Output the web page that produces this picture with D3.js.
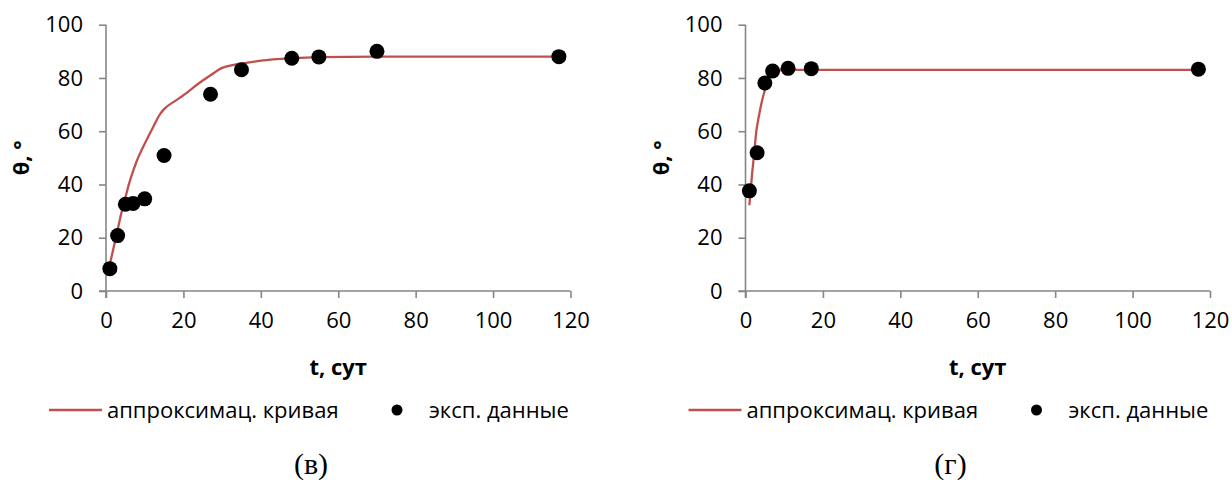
<!DOCTYPE html>
<html>
<head>
<meta charset="utf-8">
<script src="https://cdn.jsdelivr.net/npm/d3@7"></script>
<style>
  html, body { margin: 0; padding: 0; background: #fff; }
  svg { display: block; }
  text { font-family: "Open Sans", "Noto Sans", sans-serif; fill: #000; }
</style>
</head>
<body>
<svg id="chart" width="1232" height="488"></svg>
<script>
// Axis ticks shared by both panels
const tTicks = [0, 20, 40, 60, 80, 100, 120];
const thetaTicks = [0, 20, 40, 60, 80, 100];

// Panel (в): experimental points
const expT_v = [1, 3, 5, 7, 10, 15, 27, 35, 48, 55, 70, 117];
const expTheta_v = [8.4, 20.8, 32.6, 32.9, 34.6, 50.9, 73.9, 83.1, 87.4, 87.9, 90, 88];
// Panel (в): approximating curve
const fitT_v = [1, 2, 3, 4, 5, 6, 7, 8, 9, 10, 12, 14, 15, 18, 20, 24, 27, 30, 33, 35, 40, 48, 55, 70, 117];
const fitTheta_v = [10, 16.5, 23, 29.5, 35, 40.5, 45, 49, 52.3, 55.3, 61, 66.5, 68.3, 71.5, 73.5, 78, 81, 83.8, 84.9, 85.4, 86.5, 87.4, 87.8, 88, 88];

// Panel (г): experimental points
const expT_g = [1, 3, 5, 7, 11, 17, 117];
const expTheta_g = [37.6, 51.9, 78.1, 82.6, 83.6, 83.5, 83.3];
// Panel (г): approximating curve
const fitT_g = [1, 1.7, 2.2, 2.8, 3.5, 4.3, 5, 5.8, 7, 8.3, 10, 15, 117];
const fitTheta_g = [32.2, 44, 51, 60, 66, 71.6, 75.4, 79, 82.2, 82.9, 83, 83, 83];

// Text
const xTitle = "t, сут";
const yTitle = "θ, °";
const legendLine = "аппроксимац. кривая";
const legendDots = "эксп. данные";
const captions = ["(в)", "(г)"];

const svg = d3.select("#chart");
const curveColor = "#C0504D";
const axisColor = "#868686";

function drawPanel(ox, eT, eV, fT, fV, caption) {
  const g = svg.append("g").attr("transform", `translate(${ox},0)`);
  const x = d3.scaleLinear().domain([0, 120]).range([106, 570.5]);
  const y = d3.scaleLinear().domain([0, 100]).range([291, 24.7]);

  // Y axis
  const ya = g.append("g").attr("transform", `translate(${x(0)},0)`)
    .call(d3.axisLeft(y).tickValues(thetaTicks).tickSize(7).tickPadding(16));
  // X axis
  const xa = g.append("g").attr("transform", `translate(0,${y(0)})`)
    .call(d3.axisBottom(x).tickValues(tTicks).tickSize(7).tickPadding(14));
  [ya, xa].forEach(a => {
    a.selectAll("path, line").attr("stroke", axisColor).attr("stroke-width", 1.6);
    a.select(".domain").attr("d", null);
    a.selectAll("text").style("font-size", "22px").attr("fill", "#000")
      .style("font-family", '"Open Sans", sans-serif');
  });
  // domain lines without end caps
  g.append("line").attr("x1", x(0)).attr("x2", x(0)).attr("y1", y(0) + 7).attr("y2", y(100))
    .attr("stroke", axisColor).attr("stroke-width", 1.6);
  g.append("line").attr("x1", x(0) - 7).attr("x2", x(120)).attr("y1", y(0)).attr("y2", y(0))
    .attr("stroke", axisColor).attr("stroke-width", 1.6);

  // Curve
  const fit = fT.map((t, i) => [t, fV[i]]);
  g.append("path").datum(fit)
    .attr("d", d3.line().x(d => x(d[0])).y(d => y(d[1])).curve(d3.curveMonotoneX))
    .attr("fill", "none").attr("stroke", curveColor).attr("stroke-width", 2.3);

  // Points
  const pts = eT.map((t, i) => [t, eV[i]]);
  g.selectAll("circle.pt").data(pts).enter().append("circle").attr("class", "pt")
    .attr("cx", d => x(d[0])).attr("cy", d => y(d[1])).attr("r", 7.5).attr("fill", "#000");

  // Axis titles
  g.append("text").attr("x", (x(0) + x(120)) / 2).attr("y", 375)
    .attr("text-anchor", "middle").style("font-size", "22px").style("font-weight", "bold")
    .text(xTitle);
  g.append("text").attr("transform", `translate(29,${(y(0) + y(100)) / 2}) rotate(-90)`)
    .attr("text-anchor", "middle").style("font-size", "22px").style("font-weight", "bold")
    .text(yTitle);

  // Legend
  const ly = 410;
  g.append("line").attr("x1", 49).attr("x2", 102).attr("y1", ly).attr("y2", ly)
    .attr("stroke", curveColor).attr("stroke-width", 2.3);
  g.append("text").attr("x", 107).attr("y", ly + 8).style("font-size", "22px").text(legendLine);
  g.append("circle").attr("cx", 397).attr("cy", ly).attr("r", 5.5).attr("fill", "#000");
  g.append("text").attr("x", 429).attr("y", ly + 8).style("font-size", "22px").text(legendDots);

  // Caption
  g.append("text").attr("x", 311).attr("y", 474).attr("text-anchor", "middle")
    .style("font-family", '"Liberation Serif", "DejaVu Serif", serif').style("font-size", "30px")
    .text(caption);
}

drawPanel(0, expT_v, expTheta_v, fitT_v, fitTheta_v, captions[0]);
drawPanel(639.5, expT_g, expTheta_g, fitT_g, fitTheta_g, captions[1]);
</script>
</body>
</html>
